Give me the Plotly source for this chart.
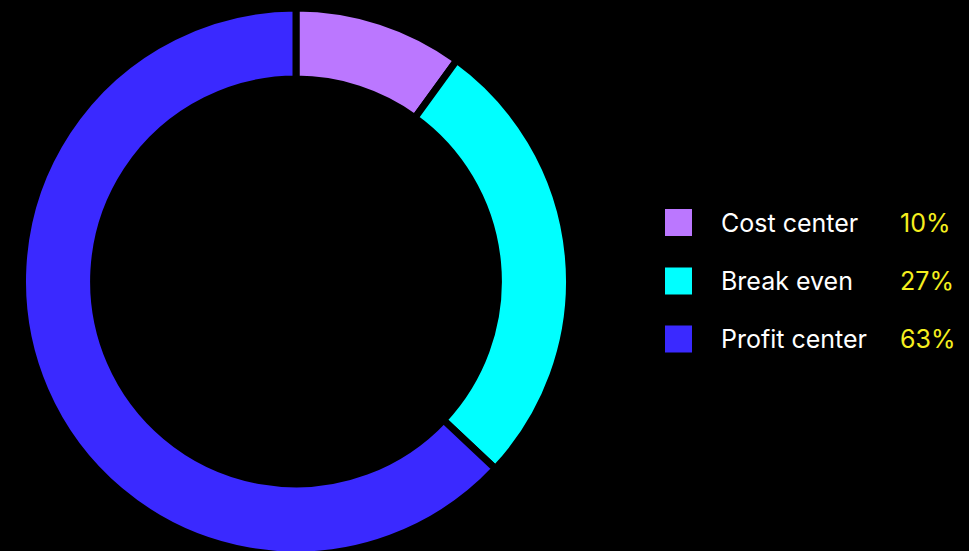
import plotly.graph_objects as go

labels = ["Cost center", "Break even", "Profit center"]
values = [10, 27, 63]
pct_labels = ["10%", "27%", "63%"]
colors = ["#BB77FF", "#00FFFF", "#3A29FF"]

W, H = 969, 555
cx, cy_top = 296, 281
R = 273.5

fig = go.Figure(go.Pie(
    labels=labels, values=values, sort=False, direction="clockwise", rotation=0,
    hole=0.74, textinfo="none", hoverinfo="label+percent",
    marker=dict(colors=colors, line=dict(color="#000000", width=7)),
    domain=dict(x=[(cx - R) / W, (cx + R) / W], y=[0, 2 * R / H]),
    showlegend=False,
))

row_y = [222.5, 281, 339]
annotations = []
shapes = []
for i, lab in enumerate(labels):
    yc = 1 - row_y[i] / H
    shapes.append(dict(type="rect", xref="paper", yref="paper",
                       x0=665 / W, x1=692 / W, y0=yc - 13.5 / H, y1=yc + 13.5 / H,
                       fillcolor=colors[i], line=dict(width=0)))
    annotations.append(dict(x=719 / W, y=yc, xref="paper", yref="paper", xanchor="left",
                            yanchor="middle", text=lab, showarrow=False,
                            font=dict(family="Inter", size=25, color="#FFFFFF")))
    annotations.append(dict(x=898 / W, y=yc, xref="paper", yref="paper", xanchor="left",
                            yanchor="middle", text=pct_labels[i], showarrow=False,
                            font=dict(family="Inter", size=25, color="#F5EE1E")))

fig.update_layout(
    width=W, height=H, margin=dict(l=0, r=0, t=0, b=0),
    paper_bgcolor="#000000", plot_bgcolor="#000000",
    shapes=shapes, annotations=annotations,
)
fig.write_html("out.html", config={"displayModeBar": False},
               post_script="document.body.style.margin='0';document.body.style.background='#000';document.body.style.overflow='hidden';")
